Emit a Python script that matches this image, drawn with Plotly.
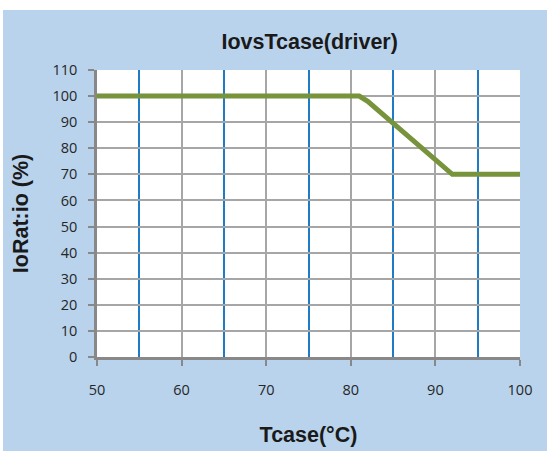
import plotly.graph_objects as go

tcase = [50, 81, 82, 92, 100]
io_ratio = [100, 100, 98, 70, 70]
x_ticks = [50, 60, 70, 80, 90, 100]
y_ticks = [0, 10, 20, 30, 40, 50, 60, 70, 80, 90, 100, 110]

W, H = 547, 451
ml, mr, mt, mb = 97, 27, 70, 94
ph = H - mt - mb
pw = W - ml - mr

fig = go.Figure()
fig.add_trace(go.Scatter(x=tcase, y=io_ratio, mode="lines",
                         line=dict(color="#77933c", width=5), hoverinfo="skip"))

title_font = dict(family="Liberation Sans, Arial", size=21.5, color="#1a1a1a")

fig.update_layout(
    width=W, height=H,
    margin=dict(l=ml, r=mr, t=mt, b=mb, autoexpand=False),
    paper_bgcolor="#b9d3ed",
    plot_bgcolor="white",
    showlegend=False,
    title=dict(text="<b>IovsTcase(driver)</b>", x=275 / W, xanchor="center",
               y=1 - 41 / H, yanchor="middle", xref="paper",
               font=title_font),
    font=dict(family="Open Sans, Liberation Sans", size=14.5, color="#262626"),
    shapes=[
        dict(type="rect", xref="paper", yref="paper",
             x0=-ml / pw - 0.01, x1=(W - ml) / pw + 0.01,
             y0=(H - mb - 10) / ph, y1=(H - mb) / ph + 0.01,
             fillcolor="white", line=dict(width=0), layer="below"),
        dict(type="rect", xref="paper", yref="paper",
             x0=-ml / pw - 0.01, x1=(3 - ml) / pw,
             y0=-mb / ph - 0.05, y1=(H - mb) / ph + 0.01,
             fillcolor="white", line=dict(width=0), layer="below"),
    ],
)

fig.update_xaxes(
    range=[50, 100], tickvals=x_ticks, ticktext=[str(v) for v in x_ticks],
    showgrid=True, gridcolor="#a6a6a6", gridwidth=1.5,
    minor=dict(dtick=5, tick0=50, showgrid=True, gridcolor="#1f7bc4", gridwidth=1.5, ticks=""),
    showline=True, linecolor="#888888", linewidth=2.5,
    ticks="outside", ticklen=6, tickcolor="#888888", tickwidth=1.5,
    ticklabelstandoff=12, zeroline=False, fixedrange=True, automargin=False,
    title=dict(text="<b>Tcase(°C)</b>", standoff=29, font=title_font),
)
fig.update_yaxes(
    range=[0, 110], tickvals=y_ticks, ticktext=[str(v) for v in y_ticks],
    showgrid=True, gridcolor="#a6a6a6", gridwidth=1.5,
    showline=True, linecolor="#888888", linewidth=2.5,
    ticks="outside", ticklen=6, tickcolor="#888888", tickwidth=1.5,
    ticklabelstandoff=8, zeroline=False, fixedrange=True, automargin=False,
    title=dict(text="<b>IoRat:io (%)</b>", standoff=18, font=title_font),
)

fig.write_html("out.html", config={"displayModeBar": False},
               post_script="document.body.style.margin='0';document.body.style.overflow='hidden';")
